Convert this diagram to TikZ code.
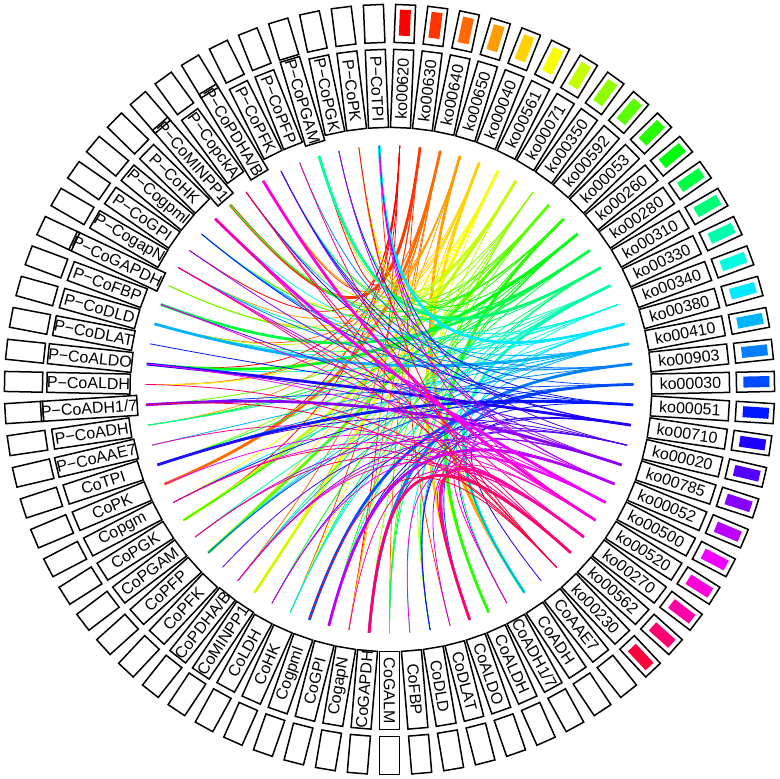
\documentclass[tikz,border=0pt]{standalone}
\usepackage{fontspec}
\setmainfont{Liberation Sans}
\usetikzlibrary{calc}
\selectcolormodel{rgb}
\begin{document}
\begin{tikzpicture}[x=1pt,y=1pt,
  labbox/.style={draw,line width=1.5pt,minimum width=78pt,minimum height=20pt,inner sep=0pt,font=\fontsize{16}{16}\selectfont},
  outbox/.style={draw,line width=1.5pt,minimum width=38pt,minimum height=20pt,inner sep=0pt},
  colbox/.style={minimum width=26pt,minimum height=11pt,inner sep=0pt}]
\useasboundingbox (-389.5,-389.5) rectangle (389.5,389.5);
\foreach \lab [count=\n from 0] in {ko00620,ko00630,ko00640,ko00650,ko00040,ko00561,ko00071,ko00350,ko00592,ko00053,ko00260,ko00280,ko00310,ko00330,ko00340,ko00380,ko00410,ko00903,ko00030,ko00051,ko00710,ko00020,ko00785,ko00052,ko00500,ko00520,ko00270,ko00562,ko00230,
CoAAE7,CoADH,CoADH1/7,CoALDH,CoALDO,CoDLAT,CoDLD,CoFBP,CoGALM,CoGAPDH,CogapN,CoGPI,Cogpml,CoHK,CoLDH,CoMINPP1,CoPDHA/B,CoPFK,CoPFP,CoPGAM,CoPGK,Copgm,CoPK,CoTPI,
P−CoAAE7,P−CoADH,P−CoADH1/7,P−CoALDH,P−CoALDO,P−CoDLAT,P−CoDLD,P−CoFBP,P−CoGAPDH,P−CogapN,P−CoGPI,P−Cogpml,P−CoHK,P−CoMINPP1,P−CopckA,P−CoPDHA/B,P−CoPFK,P−CoPFP,P−CoPGAM,P−CoPGK,P−CoPK,P−CoTPI}{
  \pgfmathsetmacro\th{90-(2.4+4.8*\n)}
  \pgfmathsetmacro\rot{ifthenelse(\n<38,\th,\th+180)}
  \node[labbox,rotate=\rot] (L\n) at (\th:301pt) {\lab};
  \node[outbox,rotate=\th] (O\n) at (\th:366pt) {};
  \coordinate (c\n) at (\th:244pt);
  \ifnum\n<29
    \pgfmathsetmacro\h{\n/28*0.96}
    \definecolor{kc}{hsb}{\h,1,1}
    \node[colbox,fill=kc,rotate=\th] (F\n) at (\th:367pt) {};
  \fi
}
\foreach \i in {0,...,28}{
  \pgfmathsetmacro\h{\i/28*0.96}
  \definecolor{cc}{hsb}{\h,1,1}
  \foreach \k in {1,...,6}{
    \pgfmathtruncatemacro\t{29+mod(\i*17+\k*23+\k*\k*5,46)}
    \pgfmathsetmacro\w{ifthenelse(mod(\i+\k*3,7)==0,2.8,0.8)}
    \draw[cc,line width=\w pt] (c\i) .. controls ($(0,0)!0.25!(c\i)$) and ($(0,0)!0.25!(c\t)$) .. (c\t);
  }
}
\end{tikzpicture}
\end{document}
